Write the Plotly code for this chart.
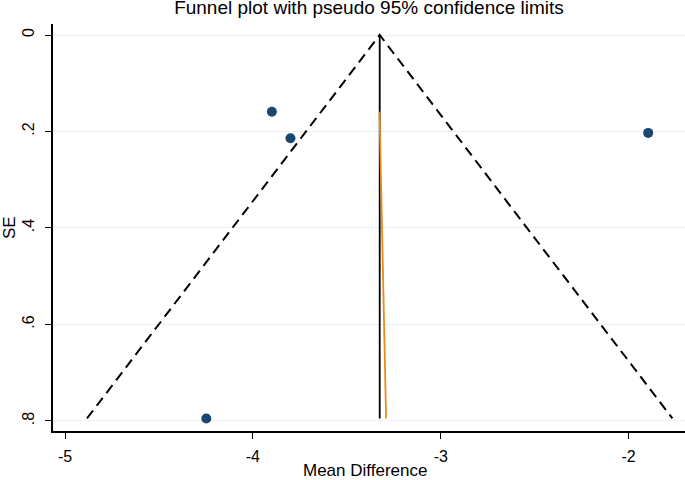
import plotly.graph_objects as go

# Study estimates
mean_diff = [-4.248, -3.899, -3.800, -1.896]
se = [0.795, 0.159, 0.214, 0.203]

# Pooled estimate and funnel limits
pooled = -3.325
se_max = 0.795
z = 1.96
# Regression line end points (mean difference at min SE and max SE)
reg_x = [-3.326, -3.291]
reg_se = [0.159, 0.795]

x_ticks = [-5, -4, -3, -2]
y_ticks = [0, 0.2, 0.4, 0.6, 0.8]
y_tick_text = ["0", ".2", ".4", ".6", ".8"]

fig = go.Figure()

# Pseudo 95% confidence limits
fig.add_trace(go.Scatter(
    x=[pooled - z * se_max, pooled, pooled + z * se_max],
    y=[se_max, 0, se_max],
    mode="lines",
    line=dict(color="black", width=2, dash="10px,6px"),
    hoverinfo="skip", showlegend=False))

# Pooled estimate line
fig.add_trace(go.Scatter(
    x=[pooled, pooled], y=[0, se_max],
    mode="lines", line=dict(color="black", width=1.8),
    hoverinfo="skip", showlegend=False))

# Regression line
fig.add_trace(go.Scatter(
    x=reg_x, y=reg_se,
    mode="lines", line=dict(color="#ef8a17", width=1.8),
    hoverinfo="skip", showlegend=False))

# Studies
fig.add_trace(go.Scatter(
    x=mean_diff, y=se, mode="markers",
    marker=dict(color="#1a476f", size=10),
    showlegend=False))

font = "Liberation Sans, Arial, Helvetica, sans-serif"

fig.update_layout(
    width=685, height=480,
    margin=dict(l=53, r=0, t=24, b=49, autoexpand=False),
    paper_bgcolor="white", plot_bgcolor="white",
    font=dict(family=font, color="black", size=16),
    title=dict(text="Funnel plot with pseudo 95% confidence limits",
               x=0.5, xanchor="center", xref="paper",
               y=1 - 7 / 480, yanchor="middle",
               font=dict(size=19, family=font, color="black")),
    annotations=[
        dict(text="Mean Difference", xref="paper", yref="paper",
             x=(365 - 53) / 632, y=-(470 - 431) / 407,
             xanchor="center", yanchor="middle", showarrow=False,
             font=dict(size=17)),
        dict(text="SE", xref="paper", yref="paper",
             x=-(53 - 10) / 632, y=(431 - 228) / 407, textangle=-90,
             xanchor="center", yanchor="middle", showarrow=False,
             font=dict(size=17)),
    ],
)

fig.update_xaxes(
    range=[-5.064, -1.70], automargin=False,
    tickvals=x_ticks, ticktext=[str(v) for v in x_ticks],
    showgrid=False, zeroline=False,
    showline=True, linecolor="black", linewidth=1.5,
    ticks="outside", ticklen=6, tickwidth=1.2, tickcolor="black",
    tickfont=dict(size=16), ticklabelstandoff=4,
)

fig.update_yaxes(
    range=[0.821, -0.0228], automargin=False,
    tickvals=y_ticks, ticktext=y_tick_text, tickangle=-90,
    showgrid=True, gridcolor="#e9f1f3", gridwidth=1.2,
    zeroline=False,
    showline=True, linecolor="black", linewidth=1.5,
    ticks="outside", ticklen=6, tickwidth=1.2, tickcolor="black",
    tickfont=dict(size=16), ticklabelstandoff=5,
)

fig.write_html("out.html", config={"displayModeBar": False},
               post_script="document.body.style.margin='0';")
